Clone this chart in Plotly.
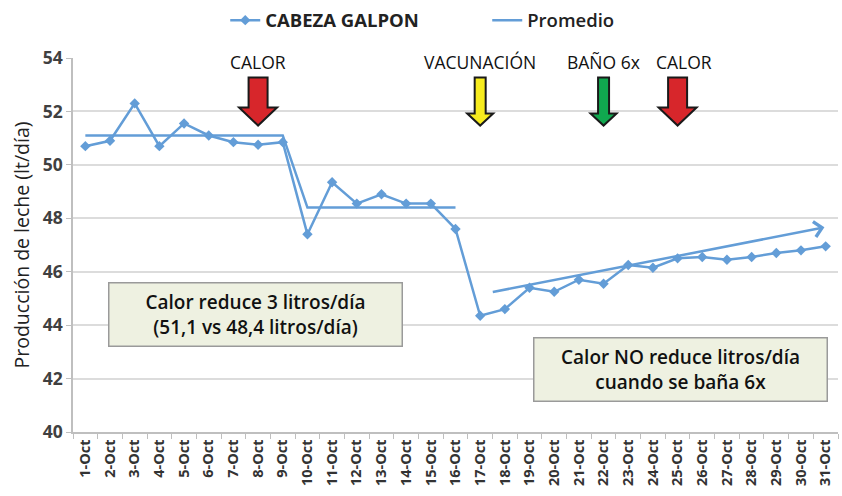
import plotly.graph_objects as go

days = [f"{d}-Oct" for d in range(1, 32)]
cabeza_galpon = [50.7, 50.9, 52.3, 50.7, 51.55, 51.1, 50.85, 50.75, 50.85,
                 47.4, 49.35, 48.55, 48.9, 48.55, 48.55, 47.6,
                 44.35, 44.6, 45.4, 45.25, 45.7, 45.55, 46.25, 46.15, 46.5,
                 46.55, 46.45, 46.55, 46.7, 46.8, 46.95]
promedio = [51.1] * 9 + [48.4] * 7 + [None] * 15

event_labels = ["CALOR", "VACUNACIÓN", "BAÑO 6x", "CALOR"]
event_days = ["8-Oct", "17-Oct", "22-Oct", "25-Oct"]
event_colors = ["#d7262b", "#f7ec1e", "#10a84f", "#d7262b"]
event_big = [True, False, False, True]

trend_start = (16.45, 45.23)
trend_end = (29.95, 47.66)

box_texts = ["Calor reduce 3 litros/día<br>(51,1 vs 48,4 litros/día)",
             "Calor NO reduce litros/día<br>cuando se baña 6x"]

BLUE = "#639dd7"
FONT = "Open Sans"

fig = go.Figure()
fig.add_trace(go.Scatter(
    x=days, y=cabeza_galpon, name="<b>CABEZA GALPON</b>", mode="lines+markers",
    line=dict(color=BLUE, width=2.5),
    marker=dict(symbol="diamond", size=8, color=BLUE)))
fig.add_trace(go.Scatter(
    x=days, y=promedio, name="Promedio", mode="lines",
    line=dict(color=BLUE, width=2.5)))

shapes = []
annotations = []


def arrow_path(big):
    if big:
        shw, hhw, hh, th = 9.5, 19, 18, 48
    else:
        shw, hhw, hh, th = 5.5, 13, 12, 48
    return (f"M{-shw},{th} L{shw},{th} L{shw},{hh} L{hhw},{hh} L0,0 "
            f"L{-hhw},{hh} L{-shw},{hh} Z")


for lab, day, col, big in zip(event_labels, event_days, event_colors, event_big):
    idx = days.index(day)
    shapes.append(dict(
        type="path", xref="x", yref="y", xsizemode="pixel", ysizemode="pixel",
        xanchor=idx, yanchor=51.47, path=arrow_path(big),
        fillcolor=col, line=dict(color="#1a1a1a", width=2), layer="above"))
    annotations.append(dict(
        x=idx, y=53.85, xref="x", yref="y", text=lab, showarrow=False,
        font=dict(family=FONT, size=17.5, color="#111111"),
        xanchor="center", yanchor="middle",
        xshift=6 if (lab == "CALOR" and idx > 20) else 0))

annotations.append(dict(
    x=trend_end[0], y=trend_end[1], ax=trend_start[0], ay=trend_start[1],
    xref="x", yref="y", axref="x", ayref="y", text="", showarrow=True,
    arrowhead=4, arrowsize=1.2, arrowwidth=2.5, arrowcolor=BLUE))

for txt, px, py in zip(box_texts, [0.239, 0.794], [0.314, 0.167]):
    annotations.append(dict(
        x=px, y=py, xref="paper", yref="paper", text=txt, showarrow=False,
        font=dict(family=FONT, size=19, color="#111111", weight=600),
        align="center", width=290, height=60, bgcolor="#eef1e1",
        bordercolor="#9a9a9a", borderwidth=1.5, borderpad=1,
        xanchor="center", yanchor="middle"))

fig.update_layout(
    width=842, height=496, autosize=False,
    margin=dict(l=73, r=4, t=58, b=64, autoexpand=False),
    paper_bgcolor="white", plot_bgcolor="white",
    font=dict(family=FONT, color="#222222"),
    showlegend=True,
    legend=dict(orientation="h", x=0.199, y=1.1, xanchor="left", yanchor="middle",
                font=dict(family=FONT, size=18.5, color="#222222", weight=600),
                entrywidth=217, entrywidthmode="pixels",
                bgcolor="rgba(0,0,0,0)"),
    shapes=shapes, annotations=annotations,
    xaxis=dict(type="category", categoryorder="array", categoryarray=days,
               range=[-0.5, 30.5], tickangle=-90, showgrid=False, automargin=False,
               showline=True, linecolor="#bfbfbf", linewidth=1.5,
               ticks="outside", tickson="boundaries", ticklen=5, tickcolor="#bfbfbf",
               tickfont=dict(family=FONT, size=14.5, color="#333333", weight="bold")),
    yaxis=dict(range=[40, 54], dtick=2, showgrid=True, gridcolor="#dcdcdc", gridwidth=1.5,
               showline=True, linecolor="#bfbfbf", linewidth=1.5, automargin=False,
               ticks="outside", ticklen=5, tickcolor="#bfbfbf", zeroline=False,
               tickfont=dict(family=FONT, size=17.5, color="#404040", weight="bold"),
               title=dict(text="Producción de leche (lt/día)", standoff=8,
                          font=dict(family=FONT, size=19.5, color="#222222"))),
)

fig.write_html("out.html", config={"displayModeBar": False},
               post_script="document.body.style.margin='0px';")
